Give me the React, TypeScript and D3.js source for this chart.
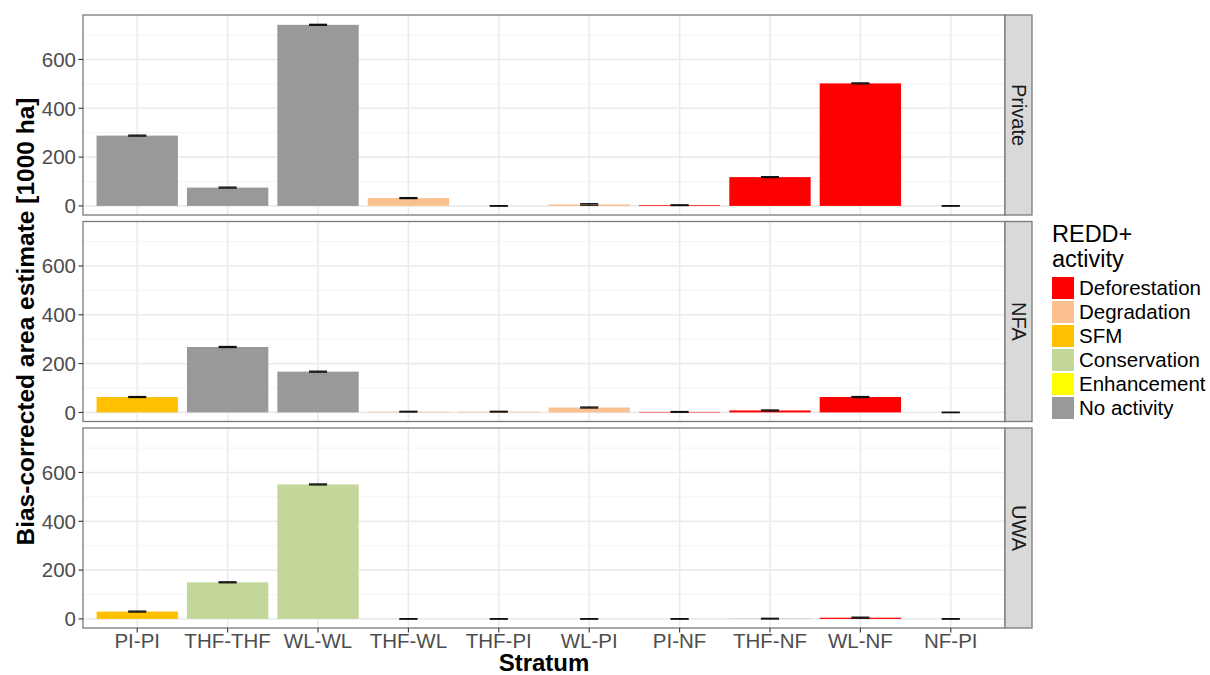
import React from "react";
import * as d3 from "d3";

const strata = ["PI-PI", "THF-THF", "WL-WL", "THF-WL", "THF-PI", "WL-PI", "PI-NF", "THF-NF", "WL-NF", "NF-PI"];
const owners = ["Private", "NFA", "UWA"];

const activities = ["Deforestation", "Degradation", "SFM", "Conservation", "Enhancement", "No activity"];
const activityColors = ["#FF0000", "#FAC090", "#FFC000", "#C4D79B", "#FFFF00", "#999999"];

const privateValues = [288, 75, 742, 32, 0, 6, 3, 118, 502, 0];
const privateActivity = ["No activity", "No activity", "No activity", "Degradation", "No activity", "Degradation", "Deforestation", "Deforestation", "Deforestation", "No activity"];
const privateErrors = [2, 2, 2, 2, 1, 3, 1.5, 2, 2, 1];

const nfaValues = [63, 268, 167, 3, 3, 20, 2, 8, 63, 0];
const nfaActivity = ["SFM", "No activity", "No activity", "Degradation", "Degradation", "Degradation", "Deforestation", "Deforestation", "Deforestation", "No activity"];
const nfaErrors = [2, 2, 2, 1.5, 1.5, 2, 1.5, 2, 2, 1];

const uwaValues = [30, 150, 551, 0, 0, 0, 0, 1, 5, 0];
const uwaActivity = ["SFM", "Conservation", "Conservation", "No activity", "No activity", "No activity", "No activity", "No activity", "Deforestation", "No activity"];
const uwaErrors = [2, 2, 2, 1, 1, 1, 1, 1.5, 2, 1];

const panelValues = [privateValues, nfaValues, uwaValues];
const panelActivity = [privateActivity, nfaActivity, uwaActivity];
const panelErrors = [privateErrors, nfaErrors, uwaErrors];

const yTicks = [0, 200, 400, 600];
const yMinor = [100, 300, 500, 700];

const FONT = "'Liberation Sans', Arial, Helvetica, sans-serif";

export default function App() {
  const W = 1210;
  const H = 675;
  const left = 83;
  const right = 1005;
  const panelTops = [15, 221.5, 428];
  const panelH = 200;
  const stripW = 27;

  const x = d3.scalePoint<string>().domain(strata).range([left, right]).padding(0.6);
  const step = x.step();
  const barW = step * 0.9;
  const errW = step * 0.2;
  const color = d3.scaleOrdinal<string, string>().domain(activities).range(activityColors);

  const yMax = 745;
  const pad = yMax * 0.05;

  return (
    <svg width={W} height={H} style={{ position: "absolute", left: 0, top: 0, fontFamily: FONT }}>
      <rect x={0} y={0} width={W} height={H} fill="#ffffff" />
      {owners.map((owner, p) => {
        const top = panelTops[p];
        const bottom = top + panelH;
        const y = d3.scaleLinear().domain([-pad, yMax + pad]).range([bottom, top]);
        const vals = panelValues[p];
        const acts = panelActivity[p];
        const errs = panelErrors[p];
        return (
          <g key={owner}>
            <rect x={left} y={top} width={right - left} height={panelH} fill="#ffffff" />
            {yMinor.map((t) => (
              <line key={"mi" + t} x1={left} x2={right} y1={y(t)} y2={y(t)} stroke="#f3f3f3" strokeWidth={0.9} />
            ))}
            {yTicks.map((t) => (
              <line key={"ma" + t} x1={left} x2={right} y1={y(t)} y2={y(t)} stroke="#ebebeb" strokeWidth={1.6} />
            ))}
            {strata.map((s) => (
              <line key={"v" + s} x1={x(s)} x2={x(s)} y1={top} y2={bottom} stroke="#ebebeb" strokeWidth={1.6} />
            ))}
            {strata.map((s, i) => {
              const v = vals[i];
              if (v <= 0) return null;
              return (
                <rect
                  key={"b" + s}
                  x={(x(s) as number) - barW / 2}
                  y={y(v)}
                  width={barW}
                  height={y(0) - y(v)}
                  fill={color(acts[i])}
                />
              );
            })}
            {strata.map((s, i) => {
              const v = vals[i];
              const e = errs[i];
              const cx = x(s) as number;
              const lo = y(v - e);
              const hi = y(v + e);
              return (
                <g key={"e" + s} stroke="#111111" strokeWidth={1.3}>
                  <line x1={cx - errW / 2} x2={cx + errW / 2} y1={lo} y2={lo} />
                  <line x1={cx - errW / 2} x2={cx + errW / 2} y1={hi} y2={hi} />
                  <line x1={cx} x2={cx} y1={lo} y2={hi} />
                </g>
              );
            })}
            <rect x={left} y={top} width={right - left} height={panelH} fill="none" stroke="#7a7a7a" strokeWidth={1.3} />
            <rect x={right} y={top} width={stripW} height={panelH} fill="#d9d9d9" stroke="#7a7a7a" strokeWidth={1.3} />
            <text
              transform={`translate(${right + stripW / 2},${top + panelH / 2}) rotate(90)`}
              textAnchor="middle"
              dy="0.35em"
              fontSize={20}
              fill="#1a1a1a"
            >
              {owner}
            </text>
            {yTicks.map((t) => (
              <g key={"yt" + t}>
                <line x1={left - 4.5} x2={left} y1={y(t)} y2={y(t)} stroke="#333333" strokeWidth={1.1} />
                <text x={left - 7} y={y(t)} dy="0.36em" textAnchor="end" fontSize={20.5} fill="#4d4d4d">
                  {t}
                </text>
              </g>
            ))}
          </g>
        );
      })}
      {strata.map((s) => {
        const bottom = panelTops[2] + panelH;
        return (
          <g key={"xt" + s}>
            <line x1={x(s)} x2={x(s)} y1={bottom} y2={bottom + 4.5} stroke="#333333" strokeWidth={1.1} />
            <text x={x(s)} y={bottom + 20} textAnchor="middle" fontSize={20.5} fill="#4d4d4d">
              {s}
            </text>
          </g>
        );
      })}
      <text x={(left + right) / 2} y={671} textAnchor="middle" fontSize={24} fontWeight="bold" fill="#000000">
        Stratum
      </text>
      <text
        transform={`translate(34,${(panelTops[0] + panelTops[2] + panelH) / 2}) rotate(-90)`}
        textAnchor="middle"
        fontSize={24.5}
        fontWeight="bold"
        fill="#000000"
      >
        Bias-corrected area estimate [1000 ha]
      </text>
      <g>
        <text x={1052} y={242} fontSize={23.5} fill="#000000">
          REDD+
        </text>
        <text x={1052} y={267} fontSize={23.5} fill="#000000">
          activity
        </text>
        {activities.map((a, i) => {
          const ky = 277 + i * 24;
          return (
            <g key={"lg" + a}>
              <rect x={1052} y={ky} width={22} height={22} fill={color(a)} />
              <text x={1079} y={ky + 11} dy="0.36em" fontSize={20.5} fill="#000000">
                {a}
              </text>
            </g>
          );
        })}
      </g>
    </svg>
  );
}
